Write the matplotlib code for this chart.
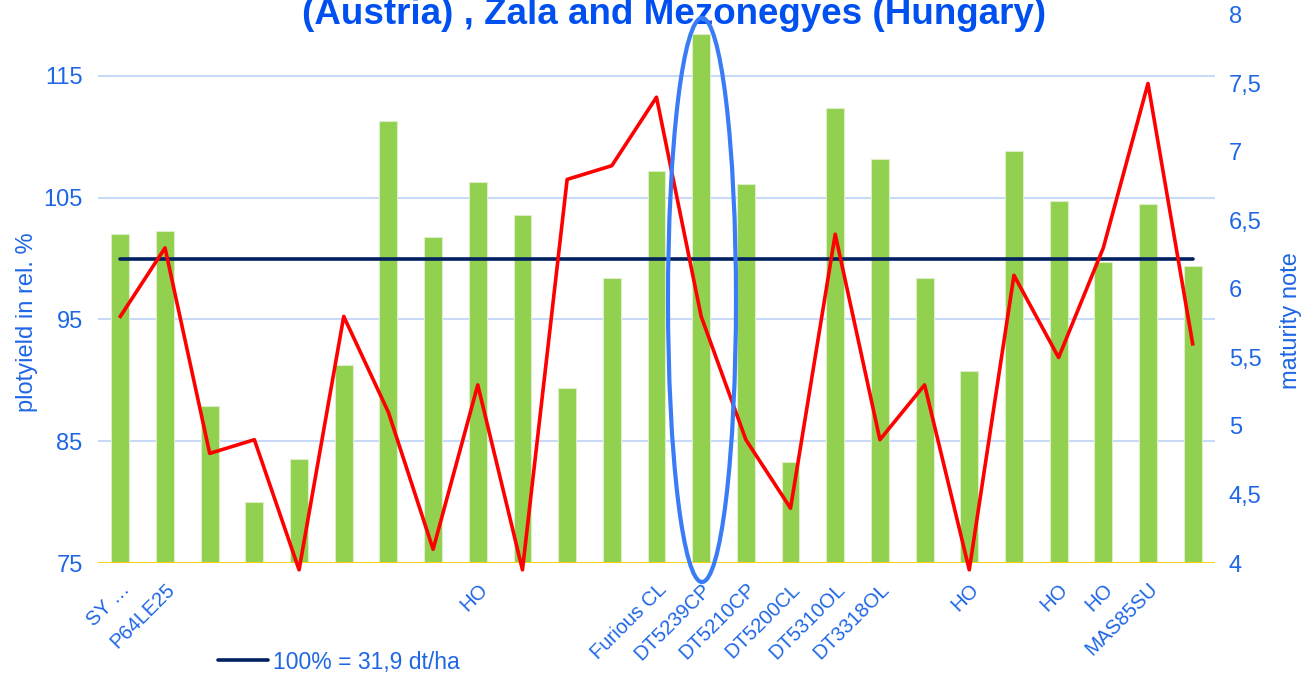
import matplotlib
matplotlib.use("Agg")
import matplotlib.pyplot as plt
import numpy as np
from matplotlib.patches import Ellipse
from matplotlib.ticker import FuncFormatter

plt.rcParams["font.family"] = ["Liberation Sans", "DejaVu Sans"]

# Data
varieties = ["SY …", "P64LE25", "", "", "", "", "", "", "HO", "", "", "",
             "Furious CL", "DT5239CP", "DT5210CP", "DT5200CL", "DT5310OL",
             "DT3318OL", "", "HO", "", "HO", "HO", "MAS85SU", ""]
plot_yield = [102.0, 102.3, 87.9, 80.0, 83.5, 91.3, 111.3, 101.8, 106.3, 103.6,
              89.4, 98.4, 107.2, 118.4, 106.1, 83.3, 112.4, 108.2, 98.4, 90.8,
              108.8, 104.7, 99.7, 104.5, 99.4]
maturity = [5.8, 6.3, 4.8, 4.9, 3.95, 5.8, 5.1, 4.1, 5.3, 3.95, 6.8, 6.9, 7.4,
            5.8, 4.9, 4.4, 6.4, 4.9, 5.3, 3.95, 6.1, 5.5, 6.3, 7.5, 5.6]
ref_level = 100
ref_label = "100% = 31,9 dt/ha"
left_ticks = [75, 85, 95, 105, 115]
right_ticks = [4, 4.5, 5, 5.5, 6, 6.5, 7, 7.5, 8]

c_bar = "#92D050"
c_line = "#FF0000"
c_ref = "#002060"
c_grid = "#C9DAF8"
c_base = "#FFD200"
c_text = "#1F66E5"
c_title = "#0050F0"
c_ring = "#3A7CF5"

fig = plt.figure(figsize=(13.05, 6.77), dpi=100)
ax = fig.add_axes([98 / 1305, 1 - 563 / 677, 1117 / 1305, 548 / 677])
x = np.arange(len(varieties))

# bars + 100% reference line on the left axis
ax.bar(x, plot_yield, width=0.4, bottom=0, color=c_bar, edgecolor="#DDEFC8",
       linewidth=0.8, zorder=2)
ref_line, = ax.plot(x, [ref_level] * len(x), color=c_ref, lw=2.6,
                    solid_capstyle="round", zorder=3)
ax.set_ylim(75, 120)
ax.set_xlim(-0.5, len(x) - 0.5)
ax.set_yticks(left_ticks)
ax.yaxis.grid(True, color=c_grid, lw=1.5)
ax.set_axisbelow(True)
ax.axhline(75, color=c_base, lw=2, zorder=2.5)

ax.set_xticks(x)
ax.set_xticklabels(varieties, rotation=45, ha="right", va="top",
                   rotation_mode="anchor", fontsize=14.5, color=c_text)
ax.tick_params(axis="x", length=0, pad=12)
ax.tick_params(axis="y", length=0, pad=11, labelsize=17, labelcolor=c_text)
ax.set_ylabel("plotyield in rel. %", fontsize=17, color=c_text)
ax.yaxis.set_label_coords(-0.054, 0.44)
for s in ax.spines.values():
    s.set_visible(False)

# maturity note on the right axis
ax2 = ax.twinx()
ax2.plot(x, maturity, color=c_line, lw=2.6, zorder=4, clip_on=False)
ax2.set_ylim(4, 8)
ax2.set_yticks(right_ticks)
ax2.yaxis.set_major_formatter(FuncFormatter(lambda v, p: f"{v:g}".replace(".", ",")))
ax2.tick_params(axis="y", length=0, pad=10, labelsize=17, labelcolor=c_text)
ax2.set_ylabel("maturity note", fontsize=17, color=c_text, rotation=90)
ax2.yaxis.set_label_coords(1.058, 0.443)
for s in ax2.spines.values():
    s.set_visible(False)

# title (second line only visible in the cropped chart)
fig.text(0.5165, 1 - 24 / 677, "(Austria) , Zala and Mezonegyes (Hungary)",
         ha="center", va="baseline", fontsize=26.5, fontweight="bold",
         color=c_title)

# highlight ring around DT5239CP
ring = Ellipse((702 / 1305, 1 - 300 / 677), 68 / 1305, 564 / 677,
               transform=fig.transFigure, fill=False, edgecolor=c_ring,
               lw=3, clip_on=False, zorder=10)
fig.add_artist(ring)

fig.legend([ref_line], [ref_label], loc="center left",
           bbox_to_anchor=(218 / 1305, 1 - 662 / 677), frameon=False,
           fontsize=16.5, handlelength=2.2, handletextpad=0.2,
           borderpad=0, borderaxespad=0, labelcolor=c_text)

fig.savefig("out.png", dpi=100)
